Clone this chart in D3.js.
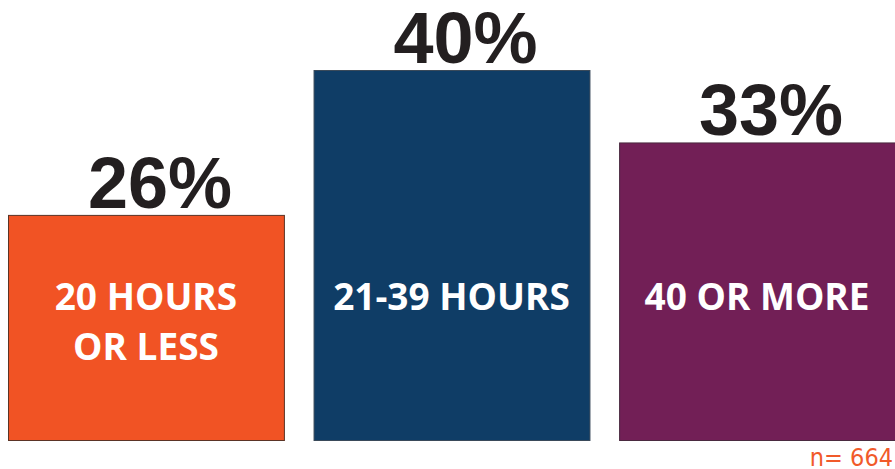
<!DOCTYPE html>
<html>
<head>
<meta charset="utf-8">
<script src="https://cdn.jsdelivr.net/npm/d3@7"></script>
<style>
  body { margin: 0; background: #fff; }
  svg { display: block; }
</style>
</head>
<body>
<svg class="chart"></svg>
<script>
var categories = ['20 HOURS|OR LESS', '21-39 HOURS', '40 OR MORE'];
var values = [26, 40, 33];
var colors = ['#f15324', '#0f3d66', '#721f56'];
var strokes = ['#5b3426', '#3a4a5a', '#4a2a40'];
var note = 'n= 664';

var settings = {
  width: 895,
  height: 469,
  baseline: 440,
  top: 70
};

function drawChart() {
  var svg = d3.select('.chart')
    .attr('width', settings.width)
    .attr('height', settings.height);

  var x = d3.scaleBand()
    .domain(categories)
    .range([8, 895])
    .paddingInner(0.097)
    .paddingOuter(0);

  // axis does not start at zero in the original
  var y = d3.scaleLinear()
    .domain([4.25, 40])
    .range([settings.baseline, settings.top]);

  var bars = svg.selectAll('g.bar')
    .data(categories)
    .enter()
    .append('g')
    .attr('class', 'bar');

  bars.append('rect')
    .attr('x', function(d) { return x(d) + 0.5; })
    .attr('y', function(d, i) { return y(values[i]) + 0.5; })
    .attr('width', x.bandwidth())
    .attr('height', function(d, i) { return settings.baseline - y(values[i]); })
    .attr('fill', function(d, i) { return colors[i]; })
    .attr('stroke', function(d, i) { return strokes[i]; })
    .attr('stroke-width', 1);

  bars.append('text')
    .attr('x', function(d) { return x(d) + x.bandwidth() / 2 + 14; })
    .attr('y', function(d, i) { return y(values[i]) - 7; })
    .attr('text-anchor', 'middle')
    .attr('font-family', 'Liberation Sans, Arial, sans-serif')
    .attr('font-weight', 'bold')
    .attr('font-size', 72)
    .attr('fill', '#231f20')
    .text(function(d, i) { return values[i] + '%'; });

  var inner = bars.append('text')
    .attr('text-anchor', 'middle')
    .attr('font-family', 'Open Sans, sans-serif')
    .attr('font-weight', 'bold')
    .attr('font-size', 37)
    .attr('fill', '#fff');

  inner.selectAll('tspan')
    .data(function(d) { return d.split('|').map(function(t) { return {t: t, d: d}; }); })
    .enter()
    .append('tspan')
    .attr('x', function(o) { return x(o.d) + x.bandwidth() / 2; })
    .attr('y', function(o, j) { return 310 + j * 50; })
    .text(function(o) { return o.t; });

  svg.append('text')
    .attr('x', 893)
    .attr('y', 466)
    .attr('text-anchor', 'end')
    .attr('font-family', 'DejaVu Sans Condensed, DejaVu Sans, sans-serif')
    .attr('font-stretch', 'condensed')
    .attr('font-size', 25)
    .attr('fill', '#f15a2a')
    .text(note);
}

drawChart();
</script>
</body>
</html>
